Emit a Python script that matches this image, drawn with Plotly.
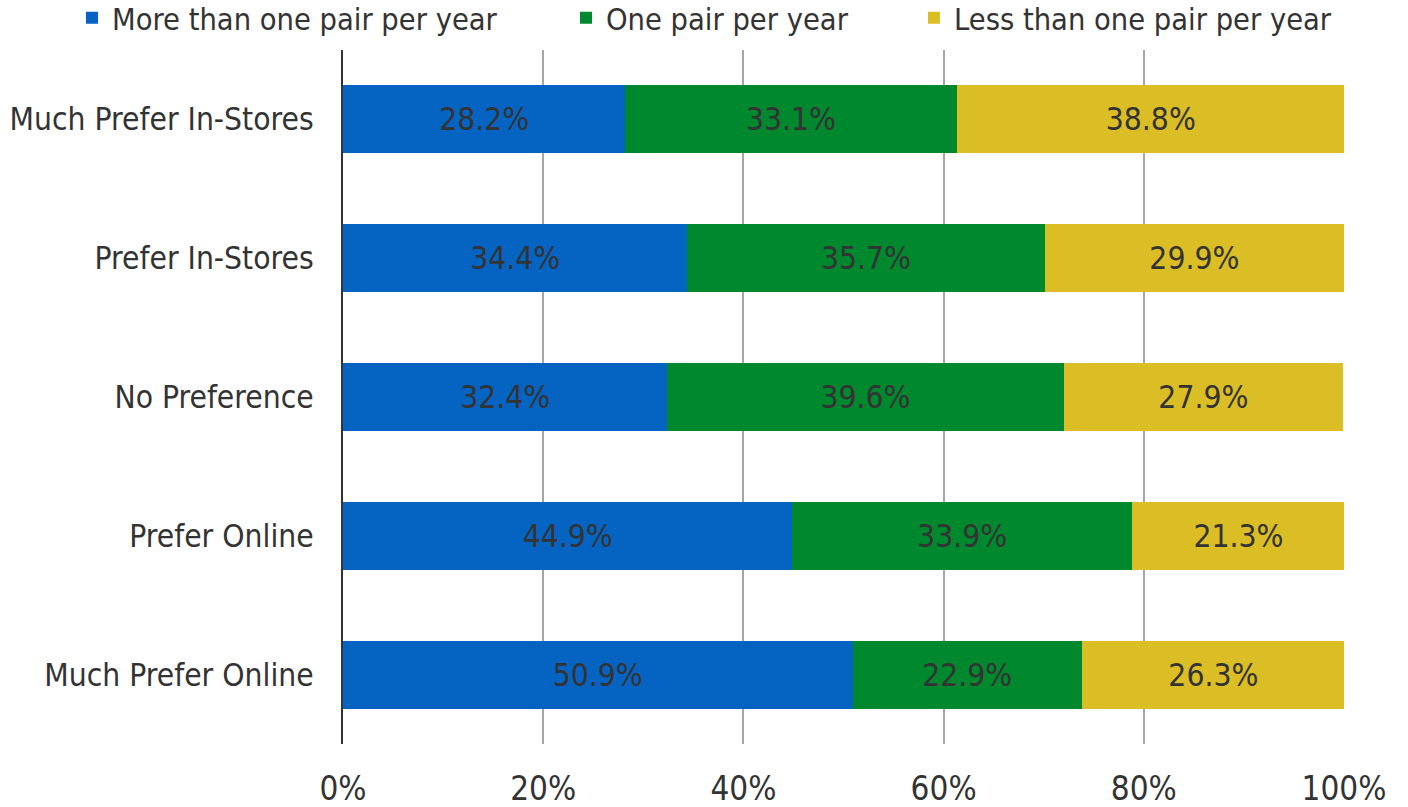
import plotly.graph_objects as go

categories = ["Much Prefer In-Stores", "Prefer In-Stores", "No Preference", "Prefer Online", "Much Prefer Online"]
more_than_one = [28.2, 34.4, 32.4, 44.9, 50.9]
one_pair = [33.1, 35.7, 39.6, 33.9, 22.9]
less_than_one = [38.8, 29.9, 27.9, 21.3, 26.3]
series_names = ["More than one pair per year", "One pair per year", "Less than one pair per year"]
colors = ["#0563C1", "#00882F", "#DBBD25"]
tick_vals = [0, 20, 40, 60, 80, 100]
tick_text = ["0%", "20%", "40%", "60%", "80%", "100%"]

FONT = "'DejaVu Sans Condensed', 'Liberation Sans Narrow', 'DejaVu Sans', sans-serif"
TXT = "#333333"

W, H = 1408, 807
L, R, T, B = 343, 64, 50, 63

fig = go.Figure()
legend_names = ["legend", "legend2", "legend3"]
for vals, name, col, lg in zip([more_than_one, one_pair, less_than_one], series_names, colors, legend_names):
    fig.add_trace(go.Bar(
        y=categories, x=vals, orientation="h", name=name,
        marker=dict(color=col, line=dict(width=0)),
        text=[f"{v:.1f}%" for v in vals], textposition="inside",
        insidetextanchor="middle", textangle=0,
        textfont=dict(family=FONT, size=31.5, color=TXT),
        legend=lg, hoverinfo="skip", showlegend=True,
    ))

legend_common = dict(orientation="h", yanchor="middle", y=1 - 18 / H, yref="container",
                     xanchor="left", xref="container",
                     font=dict(family=FONT, size=30.5, color=TXT), bgcolor="rgba(0,0,0,0)",
                     itemwidth=30, tracegroupgap=0)

fig.update_layout(
    width=W, height=H,
    margin=dict(l=L, r=R, t=T, b=B, autoexpand=False),
    barmode="stack", bargap=0.51,
    plot_bgcolor="white", paper_bgcolor="white",
    font=dict(family=FONT, color=TXT),
    showlegend=True,
    legend=dict(x=(113 - 41) / W, **legend_common),
    legend2=dict(x=(607 - 41) / W, **legend_common),
    legend3=dict(x=(955 - 41) / W, **legend_common),
    xaxis=dict(range=[0, 100], tickvals=tick_vals, ticktext=tick_text,
               showgrid=True, gridcolor="#A6A6A6", gridwidth=2, zeroline=False,
               showline=False, ticks="", ticklabelstandoff=22,
               tickfont=dict(family=FONT, size=33, color=TXT), fixedrange=True),
    yaxis=dict(autorange="reversed", showline=True, linecolor="#333333", linewidth=2,
               showgrid=False, ticks="", ticklabelstandoff=21,
               tickfont=dict(family=FONT, size=31.5, color=TXT), fixedrange=True),
)

fig.write_html("out.html", config={"displayModeBar": False},
               post_script="document.body.style.margin='0';")
